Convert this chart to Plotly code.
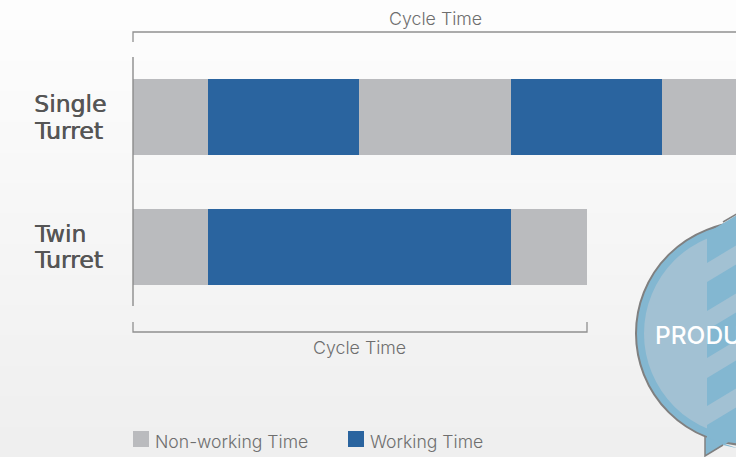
import plotly.graph_objects as go

W, H = 736, 457
categories = ["Single Turret", "Twin Turret"]
label_lines = [["Single", "Turret"], ["Twin", "Turret"]]
segments = [
    ("Non-working Time", [0.99, 0.99]),
    ("Working Time", [2.0, 4.01]),
    ("Non-working Time", [2.01, 1]),
    ("Working Time", [1.985, 0]),
    ("Non-working Time", [1, 0]),
]
colors = {"Non-working Time": "#BABBBE", "Working Time": "#2A649F"}
cycle_label = "Cycle Time"
badge_label = "PRODU"

L, T, B = 133, 57, 306
def px(x): return (x - L) / (W - L)
def py(y): return (B - y) / (B - T)
UNIT = 75.67
TXT = "#6E6E6E"
FONT = "Inter"

fig = go.Figure()
for name, vals in segments:
    fig.add_trace(go.Bar(y=categories, x=vals, name=name, orientation="h",
                         marker=dict(color=colors[name], line_width=0),
                         width=0.585, showlegend=False))

shapes, ann = [], []
def rect(x0, y0, x1, y1, fill, line=None, w=0, kind="rect", layer="above"):
    shapes.append(dict(type=kind, xref="paper", yref="paper", x0=px(x0), x1=px(x1),
                       y0=py(y0), y1=py(y1), fillcolor=fill, layer=layer,
                       line=dict(color=line or fill, width=w)))
def poly(points, fill=None, line=None, w=0):
    p = "M" + " L".join(f"{px(a):.5f},{py(b):.5f}" for a, b in points)
    shapes.append(dict(type="path", xref="paper", yref="paper", path=p + (" Z" if fill else ""),
                       fillcolor=fill or "rgba(0,0,0,0)", layer="above",
                       line=dict(color=line or "rgba(0,0,0,0)", width=w)))
def text(x, y, s, size, color=TXT, anchor="left", weight=300, family=FONT, shadow=None):
    font = dict(size=size, color=color, family=family, weight=weight)
    if shadow:
        font["shadow"] = shadow
    ann.append(dict(xref="paper", yref="paper", x=px(x), y=py(y), text=s, showarrow=False,
                    xanchor=anchor, yanchor="middle", align=anchor, font=font))

# page gradient
top, bot = 253, 239
n = top - bot + 1
for i in range(n):
    g = top - i
    rect(0, H * i / n, W, H * (i + 1) / n + 1, f"rgb({g},{g},{g})", layer="below")

# brackets and axis line
LINE = "#909090"
poly([(133, 42), (133, 32), (740, 32)], line=LINE, w=1.3)
poly([(133, 322), (133, 332), (587, 332), (587, 322)], line=LINE, w=1.3)
poly([(133, 57), (133, 306)], line="#8C8C8C", w=1.4)
text(435, 18, cycle_label, 17.8, anchor="center")
text(359.5, 347, cycle_label, 17.8, anchor="center")

# row labels
for row, ys in zip(label_lines, [(104, 131), (234, 260)]):
    for s, y in zip(row, ys):
        text(32, y, s, 23.5, color="#555555", weight=400, family="DejaVu Sans",
             shadow="0.6px 0 0 #555555")

# legend
for x, name in [(133, "Non-working Time"), (348, "Working Time")]:
    rect(x, 431, x + 16, 447, colors[name])
    text(x + 19.5, 441, name, 17.6)

# badge
rect(636, 222, 860, 445, "#83B7D1", line="#808080", w=2, kind="circle")
rect(644, 230, 852, 437, "#A2C1D3", kind="circle")
for y0, y1 in [(233, 263), (282, 311), (330, 358), (378, 406), (425, 455)]:
    poly([(707, y0), (745, y0 - 23), (745, y1 - 23), (707, y1)], fill="#83B7D1")
poly([(705, 437), (705, 456), (723, 445), (740, 449)], fill="#83B7D1")
poly([(705, 437), (705, 456), (723, 445)], line="#808080", w=1.5)
poly([(723, 222), (740, 212)], line="#808080", w=1.5)
text(653, 335, badge_label, 24.5, color="#FFFFFF", weight=500)

fig.update_layout(
    barmode="stack", width=W, height=H, bargap=0,
    margin=dict(l=L, r=0, t=T, b=H - B),
    paper_bgcolor="rgba(0,0,0,0)", plot_bgcolor="rgba(0,0,0,0)",
    xaxis=dict(range=[0, (W - L) / UNIT], visible=False),
    yaxis=dict(range=[1.4538, -0.4615], visible=False),
    shapes=shapes, annotations=ann, showlegend=False,
)
fig.write_html("out.html", config={"displayModeBar": False},
               post_script="document.body.style.margin='0';document.body.style.overflow='hidden';")
